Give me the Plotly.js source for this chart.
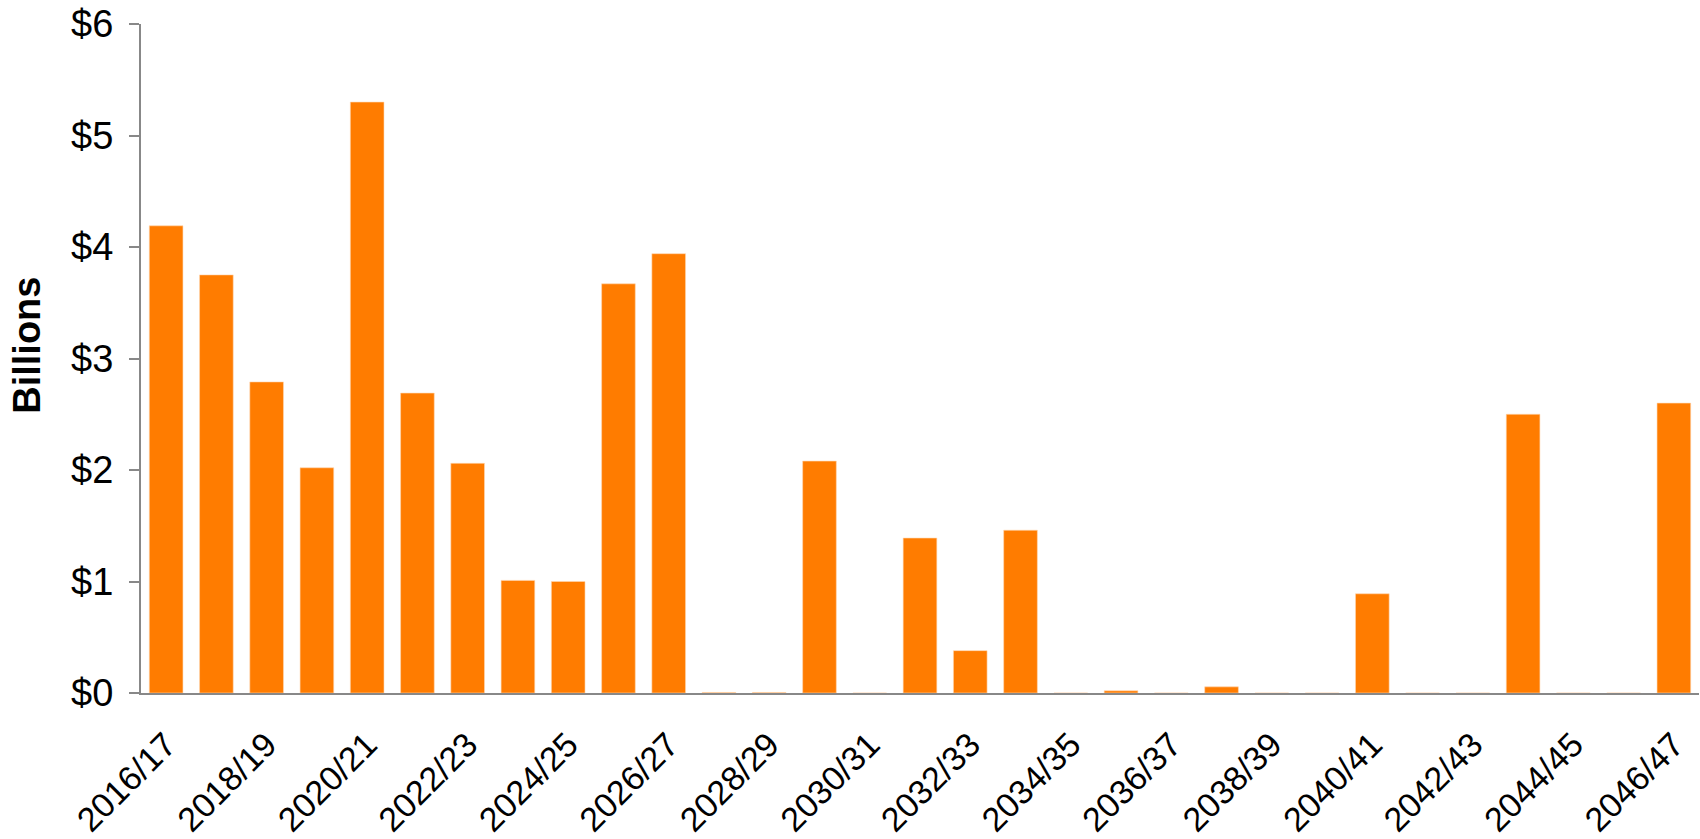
<!DOCTYPE html>
<html>
<head>
<meta charset="utf-8">
<script src="https://cdn.plot.ly/plotly-3.0.1.min.js"></script>
<style>
  html, body { margin: 0; padding: 0; background: #fff; }
  #chart { width: 1700px; height: 839px; }
</style>
</head>
<body>
<div id="chart"></div>
<script>
const categories = [
  "2016/17","2017/18","2018/19","2019/20","2020/21","2021/22","2022/23","2023/24",
  "2024/25","2025/26","2026/27","2027/28","2028/29","2029/30","2030/31","2031/32",
  "2032/33","2033/34","2034/35","2035/36","2036/37","2037/38","2038/39","2039/40",
  "2040/41","2041/42","2042/43","2043/44","2044/45","2045/46","2046/47"
];
const values = [
  4.19, 3.75, 2.79, 2.02, 5.30, 2.69, 2.06, 1.01,
  1.00, 3.67, 3.94, 0.005, 0.005, 2.08, 0, 1.39,
  0.38, 1.46, 0, 0.02, 0, 0.055, 0, 0,
  0.89, 0, 0, 2.50, 0, 0, 2.60
];
const tickLabels = categories.filter((c, i) => i % 2 === 0);
const yTicks = [0, 1, 2, 3, 4, 5, 6];
const yTitle = "Billions";

const trace = {
  type: "bar",
  x: categories,
  y: values,
  marker: { color: "#FF7C00", line: { color: "#FFD9B3", width: 0.6 } },
  hoverinfo: "x+y"
};

const layout = {
  width: 1700,
  height: 839,
  margin: { l: 141, r: 1, t: 24, b: 146 },
  paper_bgcolor: "#ffffff",
  plot_bgcolor: "#ffffff",
  bargap: 0.33,
  showlegend: false,
  font: { family: "Liberation Sans, Arial, sans-serif", color: "#000", size: 34 },
  xaxis: {
    type: "category",
    tickmode: "array",
    tickvals: tickLabels,
    ticktext: tickLabels,
    tickangle: -45,
    ticks: "",
    showgrid: false,
    showline: true,
    linecolor: "#888888",
    linewidth: 2,
    tickfont: { size: 34, color: "#000" },
    ticklabelstandoff: 16,
    zeroline: false,
    fixedrange: true
  },
  yaxis: {
    range: [0, 6],
    tickmode: "array",
    tickvals: yTicks,
    ticktext: yTicks.map(v => "$" + v),
    ticks: "outside",
    ticklen: 10,
    tickwidth: 2,
    tickcolor: "#888888",
    showgrid: false,
    showline: true,
    linecolor: "#888888",
    linewidth: 2,
    zeroline: false,
    tickfont: { size: 38, color: "#000" },
    ticklabelstandoff: 8,
    fixedrange: true
  },
  annotations: [{
    text: "<b>" + yTitle + "</b>",
    xref: "paper", yref: "paper",
    x: 0, y: 0.519,
    xanchor: "center", yanchor: "middle",
    xshift: -114,
    textangle: -90,
    showarrow: false,
    font: { size: 38, color: "#000" }
  }]
};

Plotly.newPlot("chart", [trace], layout, { displayModeBar: false, staticPlot: true });
</script>
</body>
</html>
